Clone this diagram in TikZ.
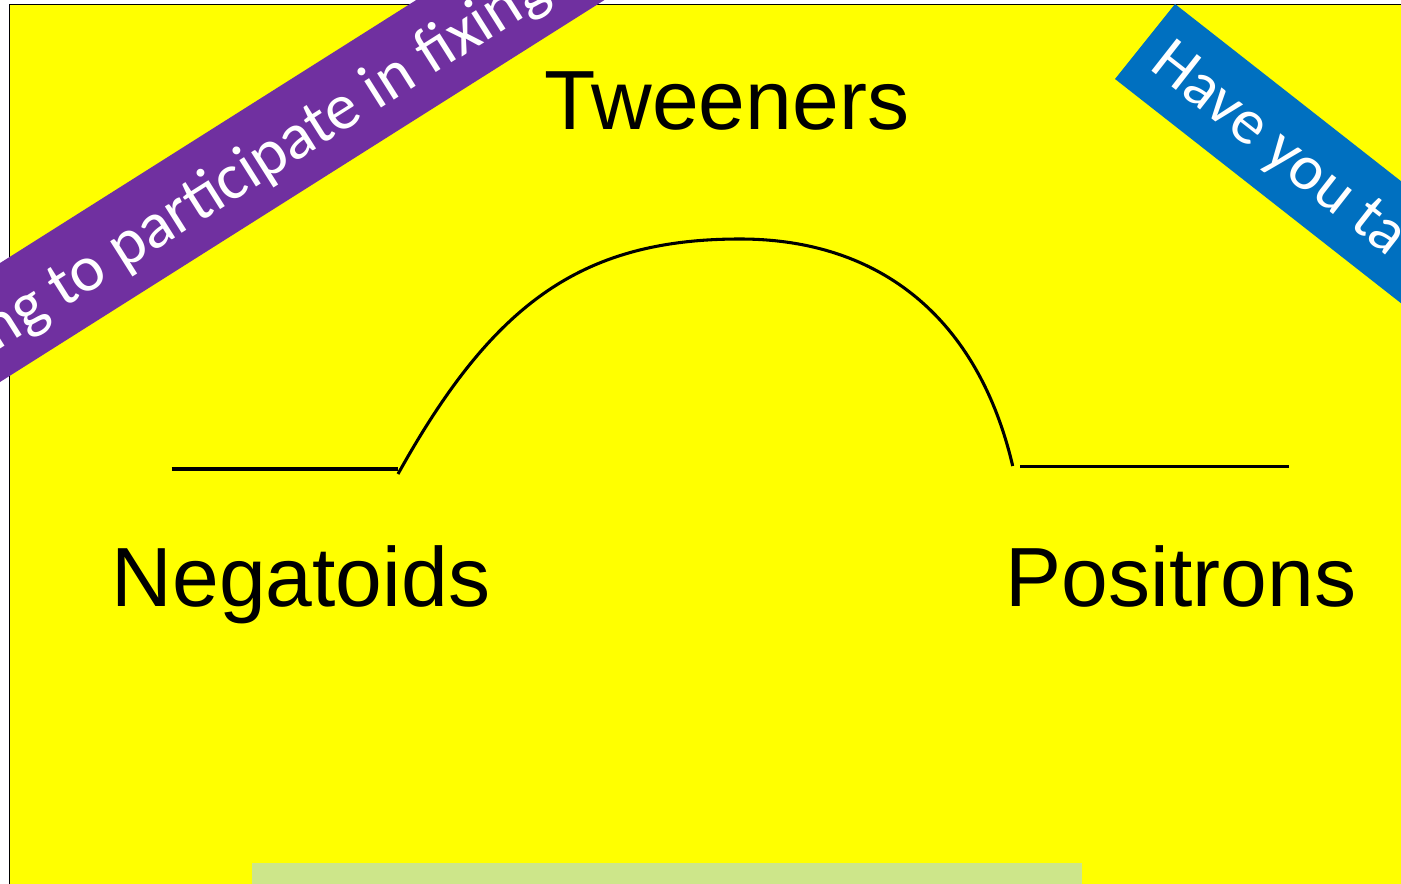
\documentclass[tikz,border=0pt]{standalone}
\usepackage{fontspec}
\setmainfont{Liberation Sans}
\newfontfamily\bannerfont{Carlito}
\definecolor{bgyellow}{RGB}{255,255,0}
\definecolor{bandpurple}{RGB}{112,48,160}
\definecolor{bandblue}{RGB}{0,112,192}
\definecolor{palegreen}{RGB}{205,230,138}
\begin{document}
\begin{tikzpicture}[x=0.75pt,y=-0.75pt,
  lbl/.style={font=\fontsize{63}{70}\selectfont, inner sep=0pt, anchor=base, text=black},
  bannertext/.style={text=white, inner sep=0pt, anchor=base west},
  stroke/.style={draw=black, line width=2.3pt},
  ]
\useasboundingbox (0,0) rectangle (1401,884);
\clip (0,0) rectangle (1401,884);
\fill[white] (0,0) rectangle (1401,884);
% frame
\filldraw[fill=bgyellow, draw=black, line width=1.2pt] (9.5,4.5) rectangle (1420,900);
% pale green box at bottom
\fill[palegreen] (252,863) rectangle (1082,900);
% purple banner
\fill[bandpurple] (-169,488.8) -- (760.5,-98.6) -- (706.8,-183.6) -- (-222.7,403.8) -- cycle;
\node[bannertext, rotate=32.3, font=\bannerfont\fontsize{49}{55}\selectfont] (purpletext) at (-3.8,351.3) {ng to participate in fixing};
% blue banner
\fill[bandblue] (1175,4) -- (1489.8,250.8) -- (1429.8,325.8) -- (1115,79) -- cycle;
\node[bannertext, rotate=-38.1, font=\bannerfont\fontsize{48}{54}\selectfont] (bluetext) at (1148,68.8) {Have you ta};
% labels
\node[lbl] (tween) at (727,129.5) {Tweeners};
\node[lbl] (neg) at (301,606) {Negatoids};
\node[lbl] (pos) at (1181,606) {Positrons};
% lines
\coordinate (l0) at (171.7,469);
\coordinate (l1) at (398,469);
\coordinate (a0) at (398,474);
\coordinate (atop) at (740,239);
\coordinate (a1) at (1012.7,466);
\coordinate (r0) at (1020,466.7);
\coordinate (r1) at (1289,466.7);
\draw[stroke] (l0) -- (l1);
\draw[stroke] (r0) -- (r1);
\draw[stroke] (a0) .. controls (492,305) and (580,239) .. (atop) .. controls (880,239) and (978,318) .. (a1);
\end{tikzpicture}
\end{document}
